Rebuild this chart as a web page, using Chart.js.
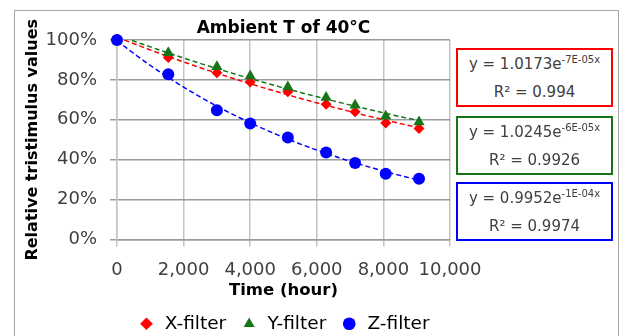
<!DOCTYPE html>
<html>
<head>
<meta charset="utf-8">
<script src="https://cdn.jsdelivr.net/npm/chart.js@4.4.1/dist/chart.umd.min.js"></script>
<style>
  html, body { margin: 0; padding: 0; background: #fff; overflow: hidden; }
  #wrap { position: relative; width: 623px; height: 336px; overflow: hidden; }
  #frame { position: absolute; left: 14px; top: 10px; width: 603px; height: 360px; border: 1px solid #a6a6a6; }
  canvas { position: absolute; left: 0; top: 0; }
  .eq { position: absolute; left: 456px; width: 157px; height: 59px; box-sizing: border-box; border: 2px solid;
        background: #fff; font-family: "DejaVu Sans", sans-serif; font-size: 15px; color: #404040;
        text-align: center; display: flex; flex-direction: column; justify-content: center; line-height: 28px; }
  .eq sup { font-size: 10px; vertical-align: 6px; line-height: 0; }
</style>
</head>
<body>
<div id="wrap">
  <div id="frame"></div>
  <canvas id="chart" width="623" height="343"></canvas>
</div>
<script>
// values
var hours   = [0, 1540, 3000, 4000, 5130, 6280, 7150, 8070, 9070];
var xFilter = [1.000, 0.912, 0.836, 0.790, 0.740, 0.678, 0.640, 0.584, 0.556];
var yFilter = [1.000, 0.936, 0.866, 0.819, 0.765, 0.712, 0.673, 0.618, 0.589];
var zFilter = [1.000, 0.828, 0.648, 0.581, 0.511, 0.436, 0.383, 0.330, 0.305];

var seriesNames  = ["X-filter", "Y-filter", "Z-filter"];
var seriesColors = ["#ff0000", "#167516", "#0000ff"];
var eqCoef = ["1.0173", "1.0245", "0.9952"];
var eqExp  = ["-7E-05x", "-6E-05x", "-1E-04x"];
var eqR2   = ["0.994", "0.9926", "0.9974"];
var eqTops = [48, 116, 182];

function points(ys) {
    return hours.map(function (h, i) { return { x: h, y: ys[i] }; });
}

// exponential trendline (least squares on ln y, like Excel)
function trend(ys) {
    var n = hours.length, sx = 0, sy = 0, sxx = 0, sxy = 0;
    for (var i = 0; i < n; i++) {
        var ly = Math.log(ys[i]);
        sx += hours[i]; sy += ly; sxx += hours[i] * hours[i]; sxy += hours[i] * ly;
    }
    var b = (n * sxy - sx * sy) / (n * sxx - sx * sx);
    var a = Math.exp((sy - b * sx) / n);
    var out = [], last = hours[n - 1];
    for (var k = 0; k <= 60; k++) {
        var x = last * k / 60;
        out.push({ x: x, y: a * Math.exp(b * x) });
    }
    return out;
}

var font = "'DejaVu Sans', sans-serif";
var all = [xFilter, yFilter, zFilter];
var styles = ["rectRot", "triangle", "circle"];
var radii = [5.5, 6.5, 6];
var orders = [2, 1, 0];
var datasets = [];

all.forEach(function (ys, i) {
    datasets.push({
        label: seriesNames[i],
        data: points(ys),
        pointStyle: styles[i],
        pointRadius: radii[i],
        backgroundColor: seriesColors[i],
        borderColor: seriesColors[i],
        borderWidth: 0,
        showLine: false,
        clip: false,
        order: orders[i]
    });
});
all.forEach(function (ys, i) {
    datasets.push({
        label: seriesNames[i] + " trend",
        data: trend(ys),
        showLine: true,
        pointRadius: 0,
        borderColor: seriesColors[i],
        borderWidth: 1.5,
        borderDash: [5, 3],
        order: 5 - i
    });
});

new Chart(document.getElementById("chart"), {
    type: "scatter",
    data: { datasets: datasets },
    options: {
        responsive: false,
        animation: false,
        layout: { padding: { left: 0, right: 173, top: 0, bottom: 0 } },
        plugins: {
            tooltip: { enabled: false },
            title: {
                display: true,
                fullSize: false,
                text: "Ambient T of 40°C",
                color: "#000",
                font: { family: font, size: 17, weight: "bold" },
                padding: { top: 18, bottom: 1.6 }
            },
            legend: {
                position: "bottom",
                fullSize: false,
                labels: {
                    usePointStyle: true,
                    boxWidth: 18,
                    boxHeight: 9,
                    padding: 14,
                    color: "#000",
                    font: { family: font, size: 18.5 },
                    filter: function (item) { return item.datasetIndex < 3; },
                    sort: function (a, b) { return a.datasetIndex - b.datasetIndex; }
                }
            }
        },
        scales: {
            x: {
                type: "linear",
                min: 0,
                max: 10000,
                afterFit: function (s) { s.height = 61; },
                ticks: {
                    stepSize: 2000,
                    padding: 13,
                    color: "#404040",
                    font: { family: font, size: 18 },
                    maxRotation: 0,
                    callback: function (v) { return v.toLocaleString("en-US"); }
                },
                grid: { color: "#c4c4c4", lineWidth: 1.5, tickLength: 7, tickColor: "#c4c4c4" },
                border: { color: "#9a9a9a", width: 1.5 },
                title: {
                    display: true,
                    text: "Time (hour)",
                    color: "#000",
                    font: { family: font, size: 16.5, weight: "bold" },
                    padding: { top: 0, bottom: 0 }
                }
            },
            y: {
                min: 0,
                max: 1,
                afterFit: function (s) { s.width = 117; },
                ticks: {
                    stepSize: 0.1,
                    padding: 13,
                    color: "#404040",
                    font: { family: font, size: 18 },
                    callback: function (v) {
                        var p = Math.round(v * 100);
                        return p % 20 === 0 ? p + "%" : "";
                    }
                },
                grid: {
                    tickLength: 7,
                    lineWidth: 1.5,
                    color: function (c) { return c.index % 2 === 0 ? "#9a9a9a" : "#c8c8c8"; },
                    tickColor: function (c) { return c.index % 2 === 0 ? "#9a9a9a" : "rgba(0,0,0,0)"; }
                },
                border: { color: "#c4c4c4", width: 1.5 },
                title: {
                    display: true,
                    text: "Relative tristimulus values",
                    color: "#000",
                    font: { family: font, size: 16, weight: "bold" },
                    padding: { top: 23.4, bottom: 0 }
                }
            }
        }
    }
});

// trendline equation boxes
var wrap = document.getElementById("wrap");
eqCoef.forEach(function (c, i) {
    var box = document.createElement("div");
    box.className = "eq";
    box.style.top = eqTops[i] + "px";
    box.style.borderColor = seriesColors[i];
    box.innerHTML = "<div>y = " + c + "e<sup>" + eqExp[i] + "</sup></div><div>R² = " + eqR2[i] + "</div>";
    wrap.appendChild(box);
});
</script>
</body>
</html>
